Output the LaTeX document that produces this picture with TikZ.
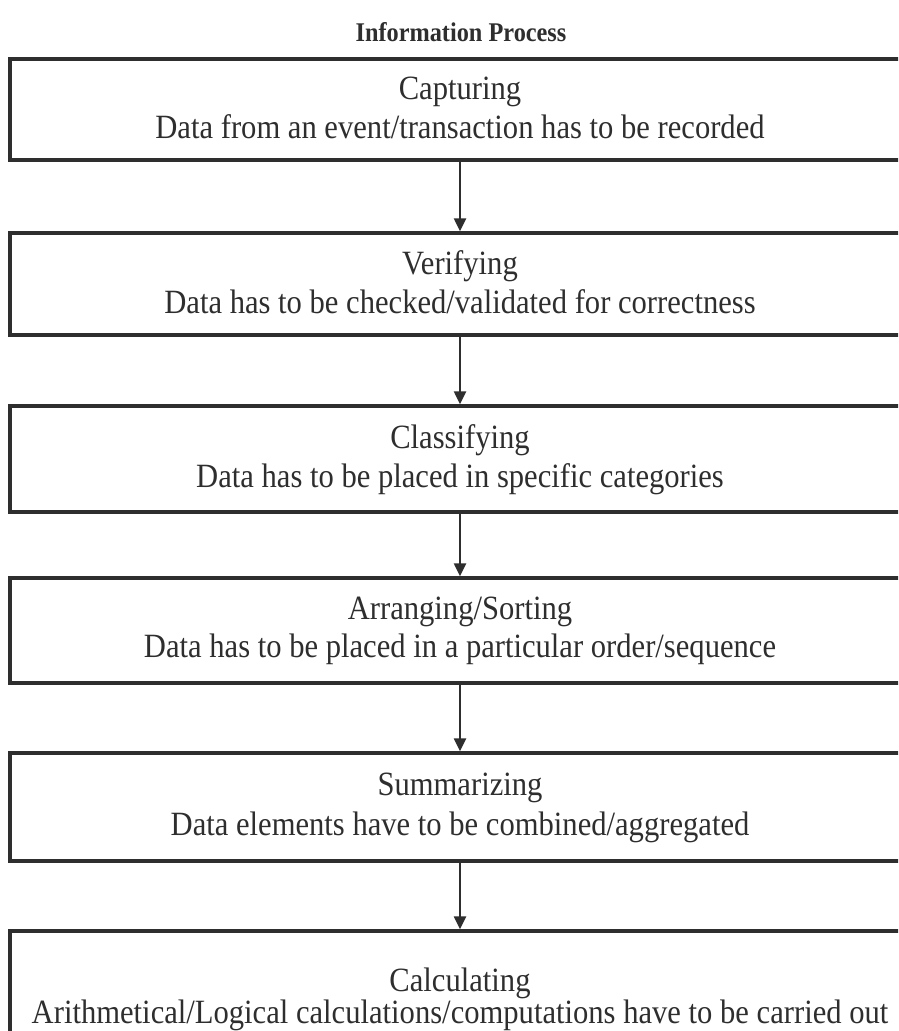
\documentclass[tikz,border=0pt]{standalone}
\usepackage{fontspec}
\setmainfont{Liberation Serif}
\newfontfamily\boxfont[FakeStretch=0.9]{Liberation Serif}
\usetikzlibrary{arrows.meta}
\definecolor{ink}{HTML}{2E2E2E}
\begin{document}
\begin{tikzpicture}[x=1pt,y=-1pt,
  stepbox/.style={draw=ink, line width=3.5pt, minimum width=900pt, inner sep=0pt},
  steptext/.style={anchor=base, inner sep=0pt, text=ink, font=\boxfont\fontsize{34}{40}\selectfont},
  flow/.style={draw=ink, line width=2.5pt, -{Triangle[length=13pt,width=12pt]}}]
  \useasboundingbox (0,0) rectangle (898,1031);
  \clip (0,0) rectangle (898,1031);
  \fill[white] (0,0) rectangle (898,1031);

  \node (title) at (461,32) [text=ink, font=\boxfont\fontsize{27}{30}\selectfont\bfseries] {Information Process};

  % step boxes (they run past the right edge)
  \node (s1) at (460,109.5) [stepbox, minimum height=101pt] {};
  \node (s2) at (460,284)   [stepbox, minimum height=102pt] {};
  \node (s3) at (460,459)   [stepbox, minimum height=106pt] {};
  \node (s4) at (460,630.5) [stepbox, minimum height=105pt] {};
  \node (s5) at (460,807)   [stepbox, minimum height=108pt] {};
  \node (s6) at (460,1005)  [stepbox, minimum height=148pt] {};

  % step names and descriptions
  \node (n1) at (460,99)    [steptext] {Capturing};
  \node (d1) at (460,138)   [steptext] {Data from an event/transaction has to be recorded};
  \node (n2) at (460,274)   [steptext] {Verifying};
  \node (d2) at (460,313)   [steptext] {Data has to be checked/validated for correctness};
  \node (n3) at (460,448)   [steptext] {Classifying};
  \node (d3) at (460,487)   [steptext] {Data has to be placed in specific categories};
  \node (n4) at (460,619)   [steptext] {Arranging/Sorting};
  \node (d4) at (460,657)   [steptext] {Data has to be placed in a particular order/sequence};
  \node (n5) at (460,795)   [steptext] {Summarizing};
  \node (d5) at (460,835)   [steptext] {Data elements have to be combined/aggregated};
  \node (n6) at (460,991)   [steptext] {Calculating};
  \node (d6) at (460,1023)  [steptext] {Arithmetical/Logical calculations/computations have to be carried out};

  \draw[flow] (s1.south) -- (s2.north);
  \draw[flow] (s2.south) -- (s3.north);
  \draw[flow] (s3.south) -- (s4.north);
  \draw[flow] (s4.south) -- (s5.north);
  \draw[flow] (s5.south) -- (s6.north);
\end{tikzpicture}
\end{document}
